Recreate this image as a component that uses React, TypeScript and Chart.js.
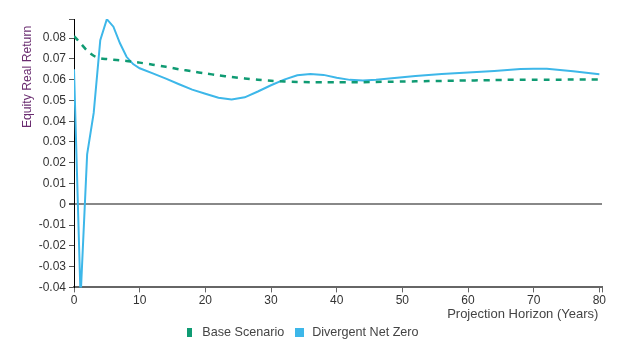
import React, { useEffect, useRef } from "react";
import { Chart, registerables } from "chart.js";
Chart.register(...registerables);

const baseYears = [0, 1, 2, 3, 4, 5, 6, 7, 8, 9, 10, 12, 14, 16, 18, 20, 22, 24, 26, 28, 30, 32, 34, 36, 38, 40, 42, 44, 46, 48, 50, 52, 54, 56, 58, 60, 62, 64, 66, 68, 70, 72, 74, 76, 78, 80];
const baseScenario = [0.081, 0.0775, 0.074, 0.0715, 0.0703, 0.0699, 0.0696, 0.0693, 0.069, 0.0686, 0.0682, 0.0672, 0.0662, 0.065, 0.064, 0.063, 0.0621, 0.0613, 0.0606, 0.06, 0.0595, 0.0591, 0.0589, 0.0588, 0.0588, 0.0588, 0.0588, 0.0588, 0.0589, 0.059, 0.0591, 0.0592, 0.0593, 0.0594, 0.0595, 0.0596, 0.0597, 0.0598, 0.0599, 0.0599, 0.06, 0.06, 0.06, 0.0601, 0.0601, 0.0601];
const netZeroYears = baseYears;
const divergentNetZero = [0.065, -0.045, 0.024, 0.044, 0.079, 0.0891, 0.0855, 0.0775, 0.071, 0.0675, 0.0655, 0.063, 0.0605, 0.0578, 0.0552, 0.0532, 0.0513, 0.0505, 0.0515, 0.0543, 0.0573, 0.06, 0.0621, 0.0627, 0.0623, 0.0609, 0.0599, 0.0596, 0.06, 0.0606, 0.0612, 0.0618, 0.0623, 0.0627, 0.0631, 0.0634, 0.0638, 0.0642, 0.0647, 0.0651, 0.0653, 0.0652, 0.0647, 0.064, 0.0633, 0.0626];
const yTicks = [-0.04, -0.03, -0.02, -0.01, 0, 0.01, 0.02, 0.03, 0.04, 0.05, 0.06, 0.07, 0.08];
const xTicks = [0, 10, 20, 30, 40, 50, 60, 70, 80];

const GREEN = "#0f9b73";
const BLUE = "#3db7e9";
const FONT = "'Liberation Sans', Arial, sans-serif";

function marker(w: number, h: number, color: string) {
  const c = document.createElement("canvas");
  c.width = w;
  c.height = h;
  const ctx = c.getContext("2d")!;
  ctx.fillStyle = color;
  ctx.fillRect(0, 0, w, h);
  return c;
}

const legendShift = {
  id: "legendShift",
  afterLayout(chart: any) {
    const lg = chart.legend;
    if (lg) {
      lg.left -= 10;
      lg.right -= 10;
    }
  },
};

export default function App() {
  const ref = useRef<HTMLCanvasElement>(null);
  useEffect(() => {
    const greenMark = marker(5, 9, GREEN);
    const blueMark = marker(9, 9, BLUE);
    const chart = new Chart(ref.current!, {
      type: "line",
      data: {
        datasets: [
          {
            label: "Base Scenario",
            data: baseYears.map((x, i) => ({ x, y: baseScenario[i] })),
            borderColor: GREEN,
            backgroundColor: GREEN,
            borderWidth: 2.5,
            borderDash: [6, 6],
            pointRadius: 0,
            tension: 0.3,
            pointStyle: greenMark as any,
          },
          {
            label: "Divergent Net Zero",
            data: netZeroYears.map((x, i) => ({ x, y: divergentNetZero[i] })),
            borderColor: BLUE,
            backgroundColor: BLUE,
            borderWidth: 2,
            pointRadius: 0,
            tension: 0,
            pointStyle: blueMark as any,
          },
        ],
      },
      plugins: [legendShift],
      options: {
        animation: false,
        responsive: false,
        layout: { padding: { left: 12, right: 18, top: 11, bottom: 7 } },
        plugins: {
          legend: {
            position: "bottom",
            labels: {
              usePointStyle: true,
              font: { family: FONT, size: 12.6 },
              color: "#444",
              padding: 9,
            },
          },
          tooltip: { enabled: false },
        },
        scales: {
          x: {
            type: "linear",
            min: 0,
            max: 80.4,
            afterBuildTicks: (s: any) => {
              s.ticks = [...xTicks, 80.4].map((v) => ({ value: v }));
            },
            ticks: {
              autoSkip: false,
              maxRotation: 0,
              padding: 1,
              color: "#333",
              font: { family: FONT, size: 12 },
              callback: (v: any) => (xTicks.includes(Number(v)) ? String(v) : ""),
            },
            grid: { drawOnChartArea: false, drawTicks: true, tickLength: 5, tickColor: "#666", lineWidth: 1 },
            border: { color: "#666", width: 2 },
            title: {
              display: true,
              text: "Projection Horizon (Years) ",
              align: "end",
              color: "#444",
              font: { family: FONT, size: 13 },
              padding: { top: -2, bottom: -5 },
            },
          },
          y: {
            type: "linear",
            min: -0.04,
            max: 0.0892,
            afterBuildTicks: (s: any) => {
              s.ticks = [...yTicks, 0.0892].map((v) => ({ value: v }));
            },
            afterFit: (s: any) => {
              s.width = 54;
            },
            ticks: {
              autoSkip: false,
              padding: 3,
              color: "#333",
              font: { family: FONT, size: 12 },
              callback: (v: any) => {
                const n = Number(v);
                const idx = yTicks.findIndex((t) => Math.abs(t - n) < 1e-9);
                if (idx < 0) return "";
                return n === 0 ? "0" : n.toFixed(2);
              },
            },
            grid: {
              drawOnChartArea: true,
              drawTicks: true,
              tickLength: 5,
              tickColor: "#555",
              color: (c: any) => (c.tick && Math.abs(c.tick.value) < 1e-9 ? "#888" : "rgba(0,0,0,0)"),
              lineWidth: (c: any) => (c.tick && Math.abs(c.tick.value) < 1e-9 ? 2 : 1),
            },
            border: { color: "#000", width: 1 },
            title: {
              display: true,
              text: "Equity Real Return  ",
              align: "end",
              color: "#6a2c70",
              font: { family: FONT, size: 12.2 },
              padding: { top: 0, bottom: 2 },
            },
          },
        },
      },
    });
    return () => chart.destroy();
  }, []);
  return <canvas ref={ref} width={612} height={348} style={{ display: "block" }} />;
}
